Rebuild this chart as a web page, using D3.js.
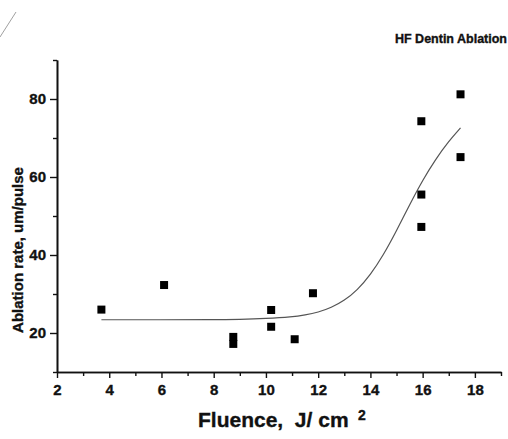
<!DOCTYPE html>
<html><head><meta charset="utf-8">
<script src="https://cdn.jsdelivr.net/npm/d3@7"></script>
<style>body{margin:0;background:#fff;} svg{display:block;font-family:"Liberation Sans",Arial,sans-serif;} text{stroke:#111;stroke-width:0.35px;}</style>
</head><body>
<svg id="c" width="508" height="439"></svg>
<script>
// data
const fluence = [3.7, 6.1, 8.75, 8.75, 10.2, 10.2, 11.1, 11.8, 15.95, 15.95, 15.95, 17.45, 17.45];
const ablation = [26.0, 32.3, 19.0, 17.2, 25.9, 21.6, 18.4, 30.2, 74.3, 55.5, 47.2, 81.2, 65.1];
const fitX = [3.7, 6, 8, 9, 10, 11, 11.5, 12, 12.5, 13, 13.5, 14, 14.5, 15, 15.5, 16, 16.5, 17, 17.45];
const fitY = [23.4, 23.4, 23.4, 23.5, 23.7, 24.1, 24.6, 25.3, 26.5, 28.3, 31.0, 34.9, 40.0, 46.2, 52.9, 59.2, 64.6, 69.2, 72.6];
const xTicks = [2, 4, 6, 8, 10, 12, 14, 16, 18];
const xMinor = [3, 5, 7, 9, 11, 13, 15, 17, 19];
const yTicks = [20, 40, 60, 80];
const yMinor = [10, 30, 50, 70, 90];
const title = "HF Dentin Ablation";
const xTitle = "Fluence,  J/ cm";
const xTitleSup = "2";
const yTitle = "Ablation rate, um/pulse";

const svg = d3.select("#c");
const x = d3.scaleLinear().domain([2, 19]).range([57, 501]);
const y = d3.scaleLinear().domain([10, 90]).range([372, 60]);

// scan artifact line
svg.append("line").attr("x1", 0).attr("y1", 37).attr("x2", 16).attr("y2", 12)
  .attr("stroke", "#888").attr("stroke-width", 0.8);

// axes
const gx = svg.append("g").attr("transform", "translate(0,372)");
gx.call(d3.axisBottom(x).tickValues(xTicks).tickSize(6).tickSizeOuter(0).tickFormat(d3.format("d")));
gx.append("g").call(d3.axisBottom(x).tickValues(xMinor).tickSize(4).tickSizeOuter(0).tickFormat(""));
const gy = svg.append("g").attr("transform", "translate(57,0)");
gy.call(d3.axisLeft(y).tickValues(yTicks).tickSize(7).tickSizeOuter(0).tickFormat(d3.format("d")));
gy.append("g").call(d3.axisLeft(y).tickValues(yMinor).tickSize(4).tickSizeOuter(0).tickFormat(""));
svg.selectAll(".domain").attr("stroke", "#111").attr("stroke-width", 1.6);
svg.selectAll(".tick line").attr("stroke", "#111").attr("stroke-width", 1.4);
gx.selectAll(".tick text").attr("font-size", 15).attr("font-weight", "bold").attr("fill", "#111").attr("dy", "0.9em");
gy.selectAll(".tick text").attr("font-size", 15).attr("font-weight", "bold").attr("fill", "#111").attr("x", -11);

// fit curve
const line = d3.line().x((d, i) => x(fitX[i])).y((d, i) => y(fitY[i])).curve(d3.curveBasis);
svg.append("path").datum(fitY).attr("d", line).attr("fill", "none").attr("stroke", "#555").attr("stroke-width", 1.2);

// points
const s = 8;
svg.selectAll("rect.pt").data(fluence).join("rect").attr("class", "pt")
  .attr("x", (d) => x(d) - s / 2).attr("y", (d, i) => y(ablation[i]) - s / 2)
  .attr("width", s).attr("height", s).attr("fill", "#000");

// titles
svg.append("text").attr("x", 507).attr("y", 43).attr("text-anchor", "end")
  .attr("font-size", 12.5).attr("font-weight", "bold").attr("fill", "#111").text(title);
const xt = svg.append("text").attr("x", 198).attr("y", 427)
  .attr("font-size", 21).attr("font-weight", "bold").attr("fill", "#111");
xt.append("tspan").style("white-space", "pre").text(xTitle);
svg.append("text").attr("x", 362).attr("y", 420).attr("text-anchor", "middle")
  .attr("font-size", 14).attr("font-weight", "bold").attr("fill", "#111").text(xTitleSup);
svg.append("text").attr("transform", "translate(23,250) rotate(-90)").attr("text-anchor", "middle")
  .attr("font-size", 15).attr("font-weight", "bold").attr("fill", "#111").text(yTitle);
</script>
</body></html>
